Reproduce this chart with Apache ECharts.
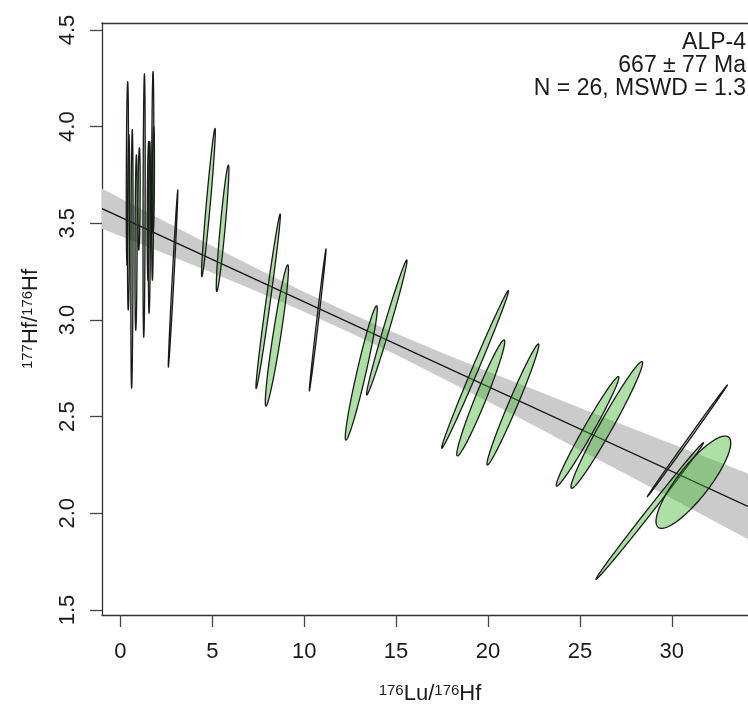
<!DOCTYPE html>
<html><head><meta charset="utf-8">
<script src="https://cdn.jsdelivr.net/npm/echarts@6.0.0/dist/echarts.min.js"></script>
<style>html,body{margin:0;padding:0;background:#fff}#c{width:748px;height:706px}</style>
</head><body><div id="c"></div>
<script>
// tick labels
const xTicks = [0, 5, 10, 15, 20, 25, 30];
const yTicks = [1.5, 2.0, 2.5, 3.0, 3.5, 4.0, 4.5];
// error ellipses: centre, half-extent in x and y, error correlation
const ellX   = [0.38, 0.446, 0.63, 0.854, 1.017, 1.29, 1.52, 1.58, 1.76, 1.795, 2.866, 10.735, 30.849,
                4.79, 5.56, 8.04, 8.515, 13.107, 14.494, 19.298, 19.608, 21.355, 25.419, 26.464, 28.80, 31.175];
const ellY   = [3.758, 3.505, 3.316, 3.40, 3.626, 3.592, 3.565, 3.479, 3.745, 3.725, 3.214, 3.0, 2.375,
                3.607, 3.474, 3.097, 2.92, 2.726, 2.961, 2.744, 2.597, 2.563, 2.424, 2.457, 2.012, 2.161];
const ellDX  = [0.06, 0.06, 0.06, 0.06, 0.06, 0.06, 0.06, 0.06, 0.06, 0.06, 0.26, 0.456, 2.177,
                0.375, 0.343, 0.664, 0.631, 0.871, 1.101, 1.820, 1.306, 1.412, 1.703, 1.948, 2.922, 2.032];
const ellDY  = [0.474, 0.453, 0.668, 0.453, 0.264, 0.68, 0.358, 0.443, 0.539, 0.275, 0.457, 0.367, 0.2886,
                0.383, 0.327, 0.451, 0.365, 0.347, 0.349, 0.4076, 0.300, 0.313, 0.283, 0.3275, 0.353, 0.2387];
const ellRho = [0.3, 0.3, 0.3, 0.3, 0.3, 0.3, 0.3, 0.3, 0.3, 0.3, 0.984, 0.994, 0.9995,
                0.957, 0.92, 0.984, 0.94, 0.957, 0.988, 0.995, 0.970, 0.982, 0.983, 0.978, 0.998, 0.849];
// isochron fit line and its confidence envelope
const fitX = [-1, 34.147];
const fitY = [3.576, 2.036];
const bandX     = [-1, 0, 2.5, 5, 7.5, 10, 12.5, 15, 17.5, 20, 22.5, 25, 27.5, 30, 32.5, 34.147];
const bandUpper = [3.680, 3.630, 3.505, 3.382, 3.262, 3.145, 3.035, 2.930, 2.831, 2.734, 2.640, 2.546, 2.452, 2.360, 2.267, 2.206];
const bandLower = [3.472, 3.434, 3.340, 3.244, 3.145, 3.043, 2.934, 2.820, 2.700, 2.578, 2.454, 2.328, 2.203, 2.076, 1.950, 1.866];

const FONT = 'Liberation Sans, Arial, sans-serif';
const ellData = ellX.map((x, i) => [x, ellY[i], ellDX[i], ellDY[i], ellRho[i]]);

const chart = echarts.init(document.getElementById('c'), null, {renderer: 'canvas'});
const axisLine = {show: true, onZero: false, lineStyle: {color: '#333', width: 1.3}};
chart.setOption({
  animation: false,
  grid: {left: 102, top: 23, right: 0, bottom: 91},
  xAxis: [{
    type: 'value', min: -1, max: 34.147, position: 'bottom',
    axisLine: axisLine,
    axisTick: {show: true, length: 12, customValues: xTicks, lineStyle: {color: '#444', width: 1.3}},
    axisLabel: {customValues: xTicks, margin: 26, fontSize: 22, color: '#1a1a1a', fontFamily: FONT},
    splitLine: {show: false}
  }, {
    type: 'value', min: -1, max: 34.147, position: 'top',
    axisLine: axisLine, axisTick: {show: false}, axisLabel: {show: false}, splitLine: {show: false}
  }],
  yAxis: {
    type: 'value', min: 1.474, max: 4.536,
    axisLine: axisLine,
    axisTick: {show: true, length: 12, customValues: yTicks, lineStyle: {color: '#444', width: 1.3}},
    axisLabel: {customValues: yTicks, rotate: 90, margin: 23, fontSize: 22, color: '#1a1a1a', fontFamily: FONT,
                formatter: v => v.toFixed(1)},
    splitLine: {show: false}
  },
  graphic: [
    {type: 'text', x: 430, y: 694, style: {
      text: '{s|176}{b|Lu/}{s|176}{b|Hf}', align: 'center', verticalAlign: 'middle',
      rich: {s: {fontSize: 15, fontFamily: FONT, fill: '#1a1a1a', verticalAlign: 'top'},
             b: {fontSize: 22, fontFamily: FONT, fill: '#1a1a1a'}}}},
    {type: 'text', x: 31, y: 319, rotation: Math.PI / 2, style: {
      text: '{s|177}{b|Hf/}{s|176}{b|Hf}', align: 'center', verticalAlign: 'middle',
      rich: {s: {fontSize: 15, fontFamily: FONT, fill: '#1a1a1a', verticalAlign: 'top'},
             b: {fontSize: 22, fontFamily: FONT, fill: '#1a1a1a'}}}},
    {type: 'text', x: 746, y: 43, style: {text: 'ALP-4', align: 'right', verticalAlign: 'middle', fontSize: 23, fontFamily: FONT, fill: '#1a1a1a'}},
    {type: 'text', x: 746, y: 66, style: {text: '667 ± 77 Ma', align: 'right', verticalAlign: 'middle', fontSize: 23, fontFamily: FONT, fill: '#1a1a1a'}},
    {type: 'text', x: 746, y: 89, style: {text: 'N = 26, MSWD = 1.3', align: 'right', verticalAlign: 'middle', fontSize: 23, fontFamily: FONT, fill: '#1a1a1a'}}
  ],
  series: [
    {
      type: 'custom', clip: true, z: 1,
      data: [[bandX[0], bandUpper[0]]],
      renderItem: (params, api) => {
        const pts = [];
        for (let i = 0; i < bandX.length; i++) pts.push(api.coord([bandX[i], bandUpper[i]]));
        for (let i = bandX.length - 1; i >= 0; i--) pts.push(api.coord([bandX[i], bandLower[i]]));
        return {type: 'polygon', shape: {points: pts}, style: {fill: '#cbcbcb'}};
      }
    },
    {
      type: 'line', z: 2, data: fitX.map((x, i) => [x, fitY[i]]), symbol: 'none',
      lineStyle: {color: '#111', width: 1.3}
    },
    {
      type: 'custom', clip: true, z: 3,
      data: ellData,
      renderItem: (params, api) => {
        const cx = api.value(0), cy = api.value(1), dx = api.value(2), dy = api.value(3), r = api.value(4);
        const s = Math.sqrt(1 - r * r);
        const pts = [];
        const N = 200;
        for (let k = 0; k < N; k++) {
          const t = 2 * Math.PI * k / N;
          pts.push(api.coord([cx + dx * Math.cos(t), cy + dy * (r * Math.cos(t) + s * Math.sin(t))]));
        }
        return {type: 'polygon', shape: {points: pts},
                style: {fill: 'rgba(60,180,40,0.42)', stroke: '#1a1a1a', lineWidth: 1.3}};
      }
    }
  ]
});
</script></body></html>
